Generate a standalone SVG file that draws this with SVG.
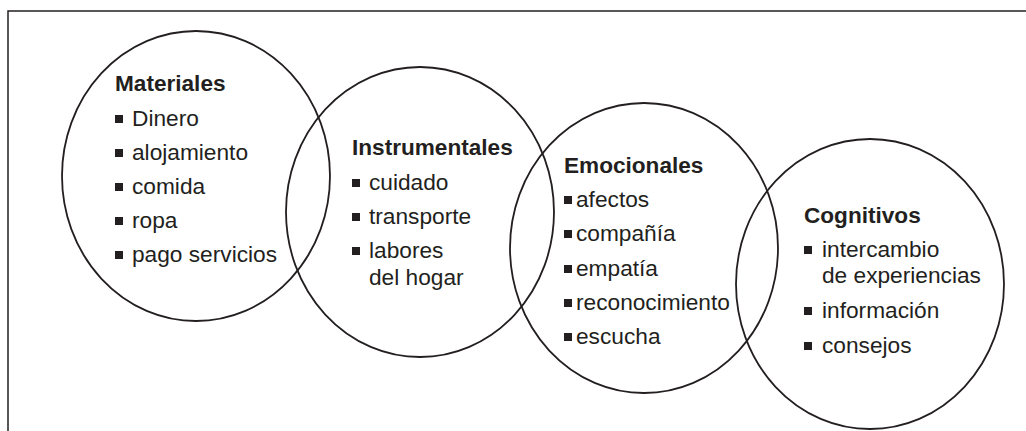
<svg xmlns="http://www.w3.org/2000/svg" width="1026" height="431" viewBox="0 0 1026 431">
<style>
.frame{fill:none;stroke:#231f20;stroke-width:1.5}
.ell{fill:none;stroke:#231f20;stroke-width:1.8}
.h{font-family:"Liberation Sans",Arial,sans-serif;font-weight:bold;font-size:22.6px;fill:#231f20}
.t{font-family:"Liberation Sans",Arial,sans-serif;font-size:22.7px;fill:#231f20}
.b{fill:#231f20}
</style>
<defs>
<rect id="bul" width="8" height="8"/>
</defs>
<rect width="1026" height="431" fill="#ffffff"/>
<path class="frame" d="M8,431 V11 H1026"/>
<g id="materiales">
<ellipse class="ell" cx="196" cy="176" rx="134" ry="145"/>
<text class="h" x="115" y="91">Materiales</text>
<use href="#bul" class="b" x="115" y="115"/><text class="t" x="132" y="126">Dinero</text>
<use href="#bul" class="b" x="115" y="149"/><text class="t" x="132" y="160">alojamiento</text>
<use href="#bul" class="b" x="115" y="183"/><text class="t" x="132" y="194">comida</text>
<use href="#bul" class="b" x="115" y="217"/><text class="t" x="132" y="228">ropa</text>
<use href="#bul" class="b" x="115" y="251"/><text class="t" x="132" y="262">pago servicios</text>
</g>
<g id="instrumentales">
<ellipse class="ell" cx="420" cy="212" rx="134" ry="145"/>
<text class="h" x="352" y="155">Instrumentales</text>
<use href="#bul" class="b" x="352" y="179"/><text class="t" x="369" y="190">cuidado</text>
<use href="#bul" class="b" x="352" y="213"/><text class="t" x="369" y="224">transporte</text>
<use href="#bul" class="b" x="352" y="247"/><text class="t" x="369" y="258">labores</text>
<text class="t" x="369" y="285">del hogar</text>
</g>
<g id="emocionales">
<ellipse class="ell" cx="644" cy="248" rx="134" ry="145"/>
<text class="h" x="564" y="173">Emocionales</text>
<use href="#bul" class="b" x="564" y="196"/><text class="t" x="576" y="207">afectos</text>
<use href="#bul" class="b" x="564" y="230"/><text class="t" x="576" y="241">compañía</text>
<use href="#bul" class="b" x="564" y="265"/><text class="t" x="576" y="276">empatía</text>
<use href="#bul" class="b" x="564" y="299"/><text class="t" x="576" y="310">reconocimiento</text>
<use href="#bul" class="b" x="564" y="333"/><text class="t" x="576" y="344">escucha</text>
</g>
<g id="cognitivos">
<ellipse class="ell" cx="870" cy="284" rx="134" ry="145"/>
<text class="h" x="804" y="223">Cognitivos</text>
<use href="#bul" class="b" x="804" y="246"/><text class="t" x="822" y="257">intercambio</text>
<text class="t" x="822" y="283">de experiencias</text>
<use href="#bul" class="b" x="804" y="307"/><text class="t" x="822" y="318">información</text>
<use href="#bul" class="b" x="804" y="342"/><text class="t" x="822" y="353">consejos</text>
</g>
<g id="connectors"/>
</svg>
